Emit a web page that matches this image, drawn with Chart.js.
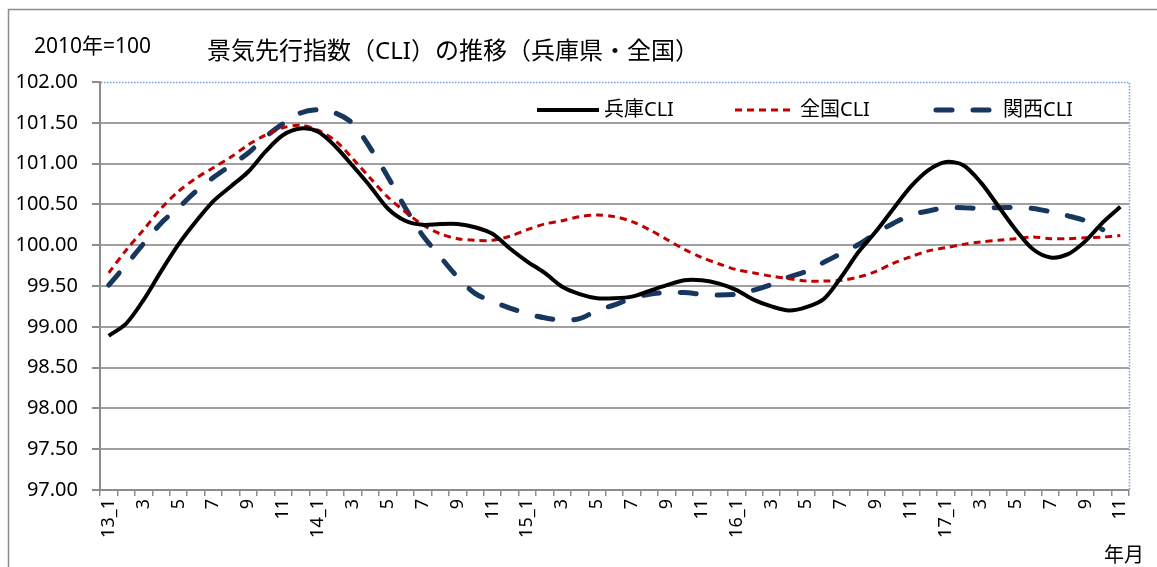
<!DOCTYPE html>
<html><head><meta charset="utf-8">
<script src="https://cdn.jsdelivr.net/npm/chart.js@4.4.1/dist/chart.umd.min.js"></script>
<style>html,body{margin:0;padding:0;background:#fff;} canvas{display:block;}</style>
</head><body>
<canvas id="c" width="1157" height="567"></canvas>
<script>
// ---- data ----
const categories = [
 '13_1','2','3','4','5','6','7','8','9','10','11','12',
 '14_1','2','3','4','5','6','7','8','9','10','11','12',
 '15_1','2','3','4','5','6','7','8','9','10','11','12',
 '16_1','2','3','4','5','6','7','8','9','10','11','12',
 '17_1','2','3','4','5','6','7','8','9','10','11'
];
const hyogo = [
 98.89, 99.04, 99.33, 99.68, 100.01, 100.29, 100.54, 100.72, 100.90, 101.15, 101.35, 101.43,
 101.39, 101.21, 100.97, 100.72, 100.45, 100.30, 100.25, 100.26, 100.26, 100.22, 100.14, 99.96,
 99.80, 99.66, 99.49, 99.40, 99.35, 99.35, 99.37, 99.44, 99.51, 99.57, 99.57, 99.53,
 99.45, 99.33, 99.25, 99.20, 99.24, 99.34, 99.61, 99.92, 100.17, 100.45, 100.72, 100.92,
 101.02, 100.98, 100.77, 100.48, 100.19, 99.95, 99.85, 99.89, 100.05, 100.28, 100.47
];
const zenkoku = [
 99.66, 99.94, 100.19, 100.45, 100.66, 100.82, 100.95, 101.08, 101.23, 101.35, 101.44, 101.47,
 101.41, 101.28, 101.06, 100.82, 100.59, 100.41, 100.25, 100.14, 100.08, 100.06, 100.06, 100.11,
 100.19, 100.26, 100.30, 100.35, 100.37, 100.35, 100.29, 100.19, 100.07, 99.95, 99.85, 99.77,
 99.70, 99.66, 99.62, 99.59, 99.56, 99.56, 99.57, 99.61, 99.68, 99.78, 99.86, 99.93,
 99.97, 100.01, 100.04, 100.06, 100.08, 100.10, 100.08, 100.08, 100.09, 100.10, 100.12
];
const kansai = [
 99.51, 99.76, 100.02, 100.27, 100.46, 100.66, 100.83, 100.98, 101.13, 101.33, 101.49, 101.62,
 101.66, 101.62, 101.49, 101.19, 100.84, 100.46, 100.12, 99.86, 99.61, 99.41, 99.31, 99.23,
 99.16, 99.11, 99.08, 99.10, 99.20, 99.27, 99.35, 99.40, 99.42, 99.42, 99.40, 99.39,
 99.40, 99.45, 99.52, 99.61, 99.68, 99.79, 99.90, 100.01, 100.15, 100.27, 100.37, 100.42,
 100.46, 100.46, 100.45, 100.46, 100.46, 100.45, 100.41, 100.36, 100.30, 100.19, null
];
const seriesNames = ['兵庫CLI', '全国CLI', '関西CLI'];
const yMin = 97, yMax = 102, yStep = 0.5;
const titleText = '景気先行指数（CLI）の推移（兵庫県・全国）';
const baseText = '2010年=100';
const xUnitText = '年月';

// ---- drawing ----
const FONT = '"Noto Sans", "Noto Sans CJK JP", sans-serif';

const decor = {
  id: 'decor',
  beforeDraw(chart) {
    const c = chart.ctx;
    c.save();
    c.fillStyle = '#fff';
    c.fillRect(0, 0, chart.width, chart.height);
    c.strokeStyle = '#8c8c8c';
    c.lineWidth = 1.5;
    c.beginPath();
    c.moveTo(8.5, chart.height + 5);
    c.lineTo(8.5, 9.5);
    c.lineTo(chart.width + 5, 9.5);
    c.stroke();
    c.restore();
  },
  afterDraw(chart) {
    const c = chart.ctx, a = chart.chartArea;
    c.save();
    // dotted plot-area border (top & right)
    c.strokeStyle = '#6fa0dc';
    c.lineWidth = 1.5;
    c.setLineDash([1.5, 1.5]);
    c.beginPath();
    c.moveTo(a.left + 1, a.top + 0.5);
    c.lineTo(a.right + 0.5, a.top + 0.5);
    c.lineTo(a.right + 0.5, a.bottom);
    c.stroke();
    c.setLineDash([]);
    // texts
    c.fillStyle = '#000';
    c.textBaseline = 'middle';
    c.textAlign = 'left';
    c.font = '24px ' + FONT;
    c.fillText(titleText, 207, 52);
    c.font = '21px ' + FONT;
    c.fillText(baseText, 34, 47);
    c.font = '20px ' + FONT;
    c.fillText(xUnitText, 1104, 556);
    // legend
    const items = [
      {x0: 537, x1: 599, tx: 604},
      {x0: 735, x1: 792, tx: 800},
      {x0: 936, x1: 990, tx: 1003}
    ];
    const ly = 110;
    chart.data.datasets.forEach((ds, i) => {
      const it = items[i];
      c.save();
      c.strokeStyle = ds.borderColor;
      c.lineWidth = ds.borderWidth;
      c.lineCap = ds.borderCapStyle || 'butt';
      c.setLineDash(ds.borderDash || []);
      c.beginPath();
      c.moveTo(it.x0, ly);
      c.lineTo(it.x1, ly);
      c.stroke();
      c.restore();
      c.font = '20px ' + FONT;
      c.fillStyle = '#000';
      c.textBaseline = 'middle';
      c.fillText(ds.label, it.tx, ly);
    });
    c.restore();
  }
};

new Chart(document.getElementById('c'), {
  type: 'line',
  data: {
    labels: categories,
    datasets: [
      {label: seriesNames[0], data: hyogo, borderColor: '#000000', borderWidth: 4,
       borderJoinStyle: 'round', pointRadius: 0, tension: 0.3, fill: false},
      {label: seriesNames[1], data: zenkoku, borderColor: '#C00000', borderWidth: 3,
       borderDash: [7, 5], pointRadius: 0, tension: 0.3, fill: false},
      {label: seriesNames[2], data: kansai, borderColor: '#17375E', borderWidth: 5,
       borderDash: [16, 21], borderCapStyle: 'round', pointRadius: 0, tension: 0.3, fill: false}
    ]
  },
  options: {
    responsive: false,
    animation: false,
    devicePixelRatio: 1,
    layout: {padding: {left: 0, top: 82, right: 28, bottom: 0}},
    plugins: {legend: {display: false}, tooltip: {enabled: false}, title: {display: false}},
    scales: {
      x: {
        offset: true,
        grid: {offset: true, drawOnChartArea: false, drawTicks: true, tickLength: 6,
               color: '#8c8c8c', tickColor: '#8c8c8c', lineWidth: 1.5},
        border: {color: '#8c8c8c', width: 2},
        ticks: {autoSkip: false, minRotation: 90, maxRotation: 90, padding: 3, color: '#000',
                font: {family: FONT, size: 18},
                callback: (v, i) => (i % 2 === 0 ? categories[i] : '')},
        afterFit(s) { s.height = 77; }
      },
      y: {
        min: yMin, max: yMax,
        ticks: {stepSize: yStep, callback: v => Number(v).toFixed(2), color: '#000',
                font: {family: FONT, size: 20}, padding: 14},
        grid: {color: ctx => (ctx.tick && ctx.tick.value === yMax ? 'rgba(0,0,0,0)' : '#a0a0a0'),
               tickColor: '#8c8c8c', lineWidth: 2, tickLength: 8},
        border: {color: '#8c8c8c', width: 2},
        afterFit(s) { s.width = 100; }
      }
    }
  },
  plugins: [decor]
});
</script>
</body></html>
